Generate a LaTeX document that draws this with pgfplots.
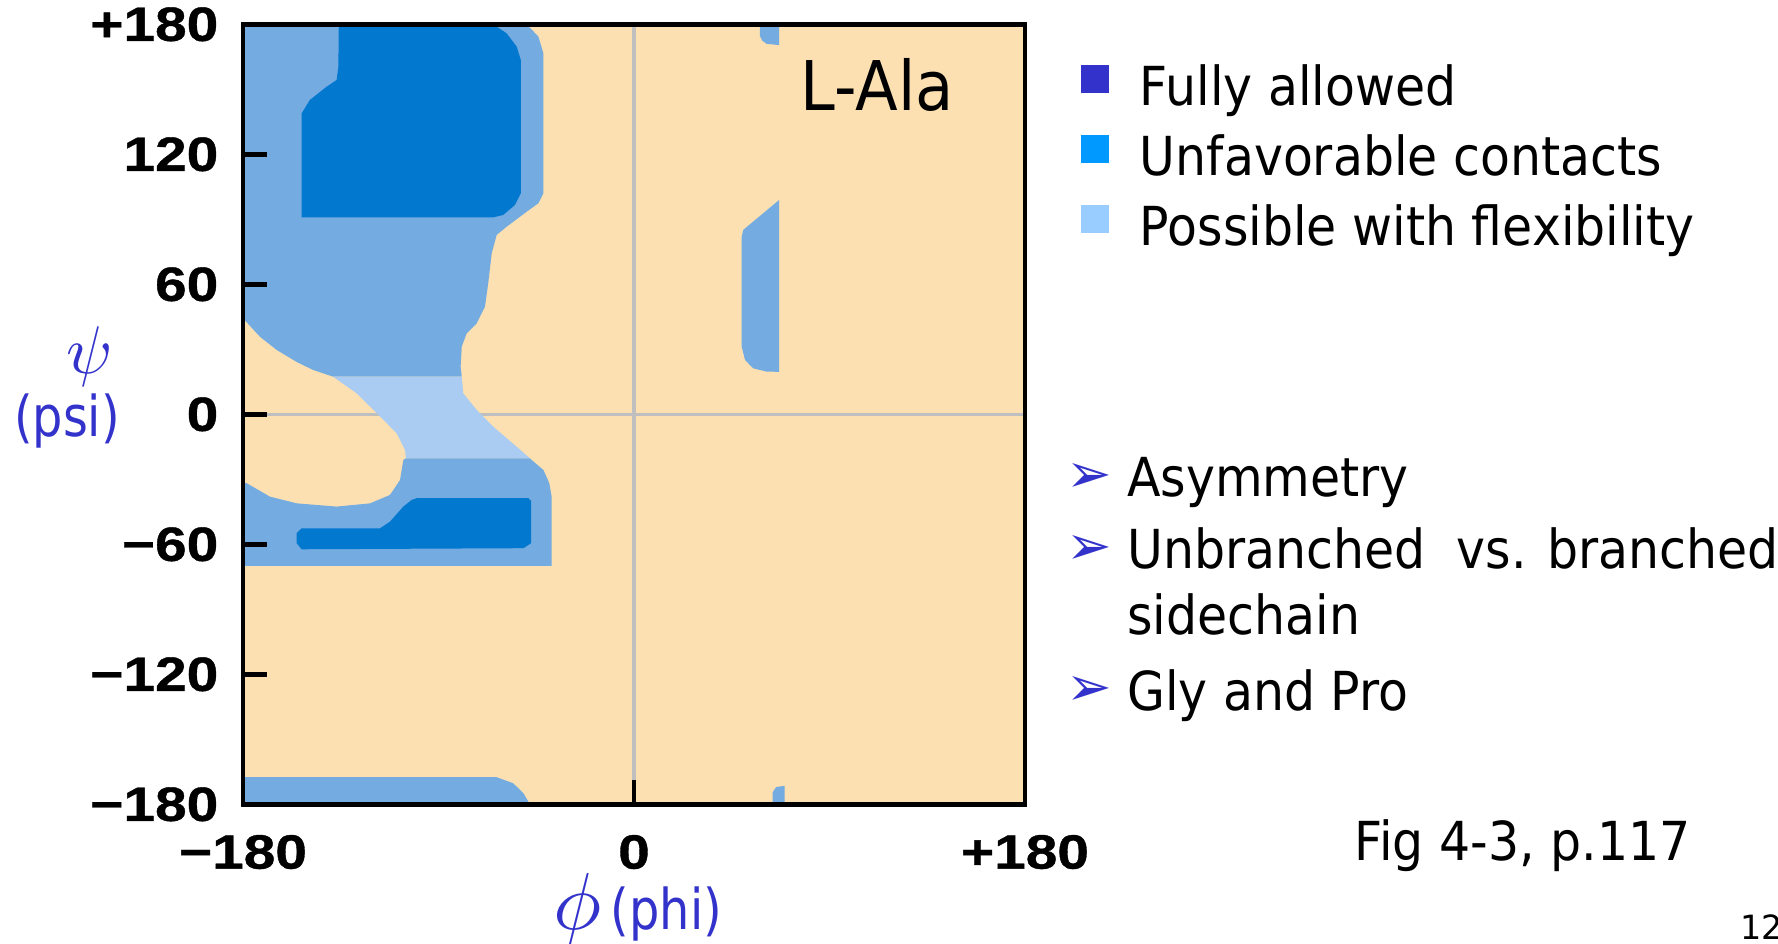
\documentclass[border=0pt]{standalone}
\usepackage{fontspec}
\usepackage{graphicx}
\usepackage{pgfplots}
\pgfplotsset{compat=1.18}
\setmainfont{DejaVu Sans}
\newfontfamily\comic[FakeStretch=0.91]{DejaVu Sans}
\newfontfamily\comicn[FakeStretch=0.85]{DejaVu Sans}
\newfontfamily\tickfont[FakeStretch=1.18, BoldFeatures={FakeBold=0.8}]{Liberation Sans}
\newfontfamily\dingfont{DejaVu Sans}
\definecolor{beige}{HTML}{FCE0B2}
\definecolor{dblue}{HTML}{0278CE}
\definecolor{mblue}{HTML}{74ABE1}
\definecolor{lblue}{HTML}{AACCF2}
\definecolor{labblue}{HTML}{3333CC}
\definecolor{legA}{HTML}{3333CC}
\definecolor{legB}{HTML}{0099FF}
\definecolor{legC}{HTML}{99CCFF}
\begin{document}
\begin{tikzpicture}[x=1mm,y=1mm]
\path[use as bounding box] (0,0) rectangle (177.8,94.4);
\begin{axis}[
  at={(24.3mm,13.97mm)}, anchor=south west,
  scale only axis, width=78.2mm, height=78.0mm,
  xmin=-180, xmax=180, ymin=-180, ymax=180,
  axis background/.style={fill=beige},
  axis on top,
  axis line style={line width=1.4pt, black},
  tick align=inside,
  xtick={-180,0,180}, xticklabels={−180,0,+180},
  ytick={-180,-120,-60,0,60,120,180},
  yticklabels={−180,−120,−60,0,60,120,+180},
  xtick pos=bottom, ytick pos=left,
  major tick length=2.4mm,
  every tick/.style={black, line width=1.4pt},
  tick label style={font=\tickfont\bfseries\fontsize{13.7}{15}\selectfont},
  yticklabel style={inner sep=0pt, xshift=-2.4mm},
  xticklabel style={inner sep=0pt, yshift=-3mm},
  legend style={at={(1.0716,0.953)}, anchor=north west, draw=none, fill=none,
    inner sep=0pt, outer sep=0pt, row sep=0pt, column sep=3.1mm,
    font=\comic\fontsize{15.3}{18}\selectfont,
    nodes={inner sep=0pt, text height=4.5mm, text depth=2.5mm}},
  legend cell align=left,
  legend image code/.code={\fill (0mm,0.3mm) rectangle (2.8mm,3.1mm);},
]
\addlegendimage{fill=legA, draw=none}
\addlegendentry{Fully allowed}
\addlegendimage{fill=legB, draw=none}
\addlegendentry{Unfavorable contacts}
\addlegendimage{fill=legC, draw=none}
\addlegendentry{Possible with flexibility}
% reference lines
\addplot[forget plot, color=black!25, line width=0.9pt] coordinates {(0,-180) (0,180)};
\addplot[forget plot, color=black!25, line width=0.9pt] coordinates {(-180,0) (180,0)};
% medium-blue upper region
\addplot[forget plot, fill=mblue, draw=none] coordinates {
(-180,180) (-49.4,180) (-44,174.3) (-41.7,166.6) (-41.7,102) (-44,97.4)
(-49.4,93.5) (-58.6,86.6) (-63.2,82.8) (-65.5,74.3) (-67.1,60.5) (-68.6,49.7)
(-72.4,42) (-77,37.4) (-79.3,31.2) (-79.8,22) (-79.3,17.4) (-138.6,17.4)
(-147.8,20.5) (-155,24) (-164.5,29.7) (-172.2,35.8) (-180,44.3)};
% light-blue bridge
\addplot[forget plot, fill=lblue, draw=none] coordinates {
(-138.6,17.4) (-79.3,17.4) (-78.6,9.7) (-72.4,2) (-64.8,-5.7) (-54,-15)
(-47.9,-20.3) (-105,-20.3) (-105.4,-16.5) (-109.2,-8.8) (-118.4,0.5) (-127.7,9.7)};
% medium-blue lower region
\addplot[forget plot, fill=mblue, draw=none] coordinates {
(-180,-70) (-37.9,-70) (-37.9,-38) (-39,-31.8) (-41.7,-25.7) (-47.1,-21.1)
(-47.9,-20.3) (-105,-20.3) (-106.2,-21.1) (-107.7,-30.3) (-112.3,-37.2)
(-121.5,-41.1) (-136.9,-42.6) (-155.3,-41.1) (-167.6,-38) (-178.3,-31.8) (-180,-31.5)};
% dark-blue upper region
\addplot[forget plot, fill=dblue, draw=none] coordinates {
(-135.9,180) (-64.8,180) (-58.6,175.8) (-54,169.7) (-52.1,163.5) (-52.1,102)
(-54.8,96.6) (-60.2,92) (-64.8,90.9) (-153,90.9) (-153,138.9) (-149.2,145.1)
(-141.5,151.2) (-136.9,154.3) (-136.1,160.4)};
% dark-blue lower region
\addplot[forget plot, fill=dblue, draw=none] coordinates {
(-100,-38.7) (-48.6,-38.7) (-47.4,-40) (-47.4,-59.5) (-50.9,-61.8) (-153,-62.3)
(-155.3,-59.5) (-155.3,-54.9) (-153,-52.6) (-116.9,-52.6) (-112.3,-49.5)
(-106.2,-42.6) (-102.3,-39.5)};
% bottom strip
\addplot[forget plot, fill=mblue, draw=none] coordinates {
(-180,-180) (-180,-167.5) (-63.2,-167.5) (-55.6,-170.3) (-50.9,-174.9) (-47.9,-180)};
% small pieces near phi = 60
\addplot[forget plot, fill=mblue, draw=none] coordinates {
(58,180) (58,174.5) (59,172.5) (61,171) (66.8,170.4) (66.8,180)};
\addplot[forget plot, fill=mblue, draw=none] coordinates {
(63.8,-180) (63.8,-174.5) (65.5,-172) (69.3,-171.5) (69.3,-180)};
\addplot[forget plot, fill=mblue, draw=none] coordinates {
(66.8,98.9) (50.3,85.1) (49.6,82) (49.6,31.2) (51.1,25.1) (54.9,21.2)
(61.1,19.7) (66.8,19.6)};
\node[anchor=base west, inner sep=0pt, font=\comic\fontsize{19.5}{22}\selectfont]
  at (axis cs:76.4,140.4) {L-Ala};
\end{axis}
% axis labels
\node[anchor=base, inner sep=0pt, text=labblue, font=\fontsize{10}{12}\selectfont] at (9.0,57.0) {\scalebox{1.92}{$\psi$}};
\node[anchor=base, inner sep=0pt, text=labblue, font=\comicn\fontsize{16}{18}\selectfont] at (6.7,50.7) {(psi)};
\node[anchor=base, inner sep=0pt, text=labblue, font=\fontsize{10}{12}\selectfont] at (57.8,1.4) {\scalebox{2.3}{$\phi$}};
\node[anchor=base west, inner sep=0pt, text=labblue, font=\comicn\fontsize{16}{18}\selectfont] at (61.0,1.4) {(phi)};
% bullet list
\begin{scope}[every node/.style={inner sep=0pt, anchor=base west}]
\node[text=labblue, font=\dingfont\fontsize{15.5}{17}\selectfont] at (106.6,45.1) {➢};
\node[text=labblue, font=\dingfont\fontsize{15.5}{17}\selectfont] at (106.6,37.9) {➢};
\node[text=labblue, font=\dingfont\fontsize{15.5}{17}\selectfont] at (106.6,23.8) {➢};
\node[font=\comic\fontsize{15.3}{18}\selectfont] at (112.66,44.73) {Asymmetry};
\node[font=\comic\fontsize{15.3}{18}\selectfont] at (112.66,37.5) {Unbranched\ \ vs. branched};
\node[font=\comic\fontsize{15.3}{18}\selectfont] at (112.66,30.9) {sidechain};
\node[font=\comic\fontsize{15.3}{18}\selectfont] at (112.66,23.36) {Gly and Pro};
\node[font=\comic\fontsize{15.3}{18}\selectfont] at (135.4,8.3) {Fig 4-3, p.117};
\node[font=\fontsize{9.5}{11}\selectfont] at (174.0,0.4) {12};
\end{scope}
\end{tikzpicture}
\end{document}
